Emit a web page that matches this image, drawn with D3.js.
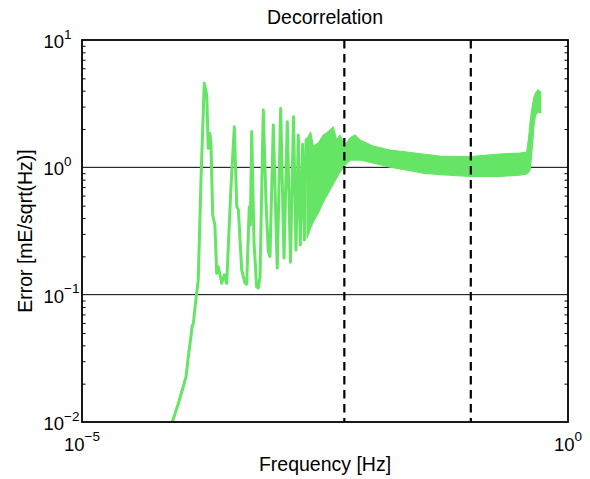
<!DOCTYPE html>
<html><head><meta charset="utf-8">
<script src="https://cdn.jsdelivr.net/npm/d3@7"></script>
<style>
body{margin:0;background:#fff}
svg{display:block}
text{font-family:"Liberation Sans",Arial,Helvetica,sans-serif;fill:#000}
</style>
</head><body>
<svg id="c" width="590" height="479"></svg>
<script>
// ---- data ----
const title = "Decorrelation";
const xLabel = "Frequency [Hz]";
const yLabel = "Error [mE/sqrt(Hz)]";

// sparse, resolved oscillations (low frequencies)
const freqLine = [8.5e-5,9.8e-5,1.10e-4,1.175e-4,1.24e-4,1.32e-4,1.355e-4,1.40e-4,1.456e-4,1.51e-4,1.57e-4,1.675e-4,
  1.81e-4,1.92e-4,1.99e-4,2.06e-4,2.12e-4,2.21e-4,2.33e-4,2.43e-4,2.52e-4,2.74e-4,2.91e-4,3.08e-4,3.39e-4,
  3.69e-4,3.91e-4,4.06e-4,4.40e-4,4.75e-4,4.94e-4,5.26e-4,5.40e-4,5.57e-4,5.89e-4,6.26e-4,6.52e-4,6.78e-4,
  7.33e-4,7.82e-4,8.26e-4,8.59e-4,9.29e-4,1.02e-3,1.106e-3,1.197e-3,1.294e-3,1.396e-3,1.50e-3,1.59e-3,
  1.68e-3,1.76e-3,1.86e-3,1.94e-3,2.02e-3];
const errLine = [0.010,0.014,0.0189,0.0226,0.0325,0.0467,0.056,0.0595,0.080,0.102,0.130,0.794,
  4.57,3.70,1.41,1.85,1.59,0.422,0.352,0.147,0.166,0.123,0.143,0.123,0.643,
  2.08,0.491,0.463,0.156,0.123,0.121,0.491,0.352,1.91,0.254,0.115,0.113,0.138,
  2.82,0.525,0.217,0.199,2.15,0.161,2.90,0.194,2.28,0.180,2.50,0.223,
  1.79,0.2455,1.52,0.2685,1.64];

// dense, unresolved part: upper and lower envelope of the trace
const freqBand = [2.065e-3,2.25e-3,2.40e-3,2.70e-3,3.04e-3,3.29e-3,3.56e-3,3.85e-3,4.17e-3,4.51e-3,5.08e-3,
  5.71e-3,6.44e-3,7.24e-3,9.86e-3,1.476e-2,2.21e-2,3.22e-2,4.82e-2,9.82e-2,0.1995,0.3206,
  0.376,0.393,0.407,0.416,0.434,0.447,0.464,0.491,0.524];
const errBandHi = [1.667,1.894,1.470,1.552,1.793,1.859,1.963,2.073,1.638,1.793,1.497,
  1.700,1.793,1.638,1.470,1.367,1.319,1.272,1.227,1.216,1.272,1.295,
  1.319,1.700,2.228,2.575,3.20,3.567,3.834,4.05,3.904];
const errBandLo = [0.2786,0.3336,0.3718,0.4375,0.5336,0.595,0.6637,0.7396,0.8241,0.918,1.042,
  1.141,1.141,1.141,1.081,1.005,0.952,0.902,0.878,0.847,0.847,0.870,
  0.886,0.918,0.952,1.101,1.580,2.15,2.575,2.72,2.67];

const xTickValues = [1e-5, 1];
const xTickExponents = ["\u22125", "0"];
const yTickValues = [1e-2, 1e-1, 1, 10];
const yTickExponents = ["\u22122", "\u22121", "0", "1"];
const gridValues = [0.1, 1];
const markerFreqs = [5e-3, 0.1];

// ---- drawing ----
const svg = d3.select("#c");
const L = 82, R = 568, T = 40, B = 422;
const x = d3.scaleLog().domain([1e-5, 1]).range([L, R]);
const y = d3.scaleLog().domain([1e-2, 10]).range([B, T]);
const green = "#66e466";

svg.append("clipPath").attr("id","clip").append("rect")
  .attr("x",L).attr("y",T).attr("width",R-L).attr("height",B-T);

// grid lines (under data)
svg.append("g").selectAll("line").data(gridValues).join("line")
  .attr("x1",L).attr("x2",R).attr("y1",d=>y(d)).attr("y2",d=>y(d))
  .attr("stroke","#000").attr("stroke-width",1);

const plot = svg.append("g").attr("clip-path","url(#clip)");

// dense band
const bandData = freqBand.map((f,i)=>({f, hi:errBandHi[i], lo:errBandLo[i]}));
plot.append("path").datum(bandData)
  .attr("d", d3.area().x(d=>x(d.f)).y0(d=>y(d.lo)).y1(d=>y(d.hi)))
  .attr("fill", green).attr("stroke", green).attr("stroke-width",1.2).attr("stroke-linejoin","round");

// sparse line
const lineData = freqLine.map((f,i)=>({f, v:errLine[i]}));
lineData.push({f:freqBand[0], v:errBandHi[0]});
plot.append("path").datum(lineData)
  .attr("d", d3.line().x(d=>x(d.f)).y(d=>y(d.v)))
  .attr("fill","none").attr("stroke",green).attr("stroke-width",3)
  .attr("stroke-linejoin","round").attr("stroke-linecap","round");

// dashed vertical markers (over data)
svg.append("g").selectAll("line").data(markerFreqs).join("line")
  .attr("x1",d=>x(d)).attr("x2",d=>x(d)).attr("y1",T).attr("y2",B)
  .attr("stroke","#000").attr("stroke-width",2.2).attr("stroke-dasharray","8.5,5.5");

// minor y ticks (left and right, inward)
const minor = [];
[-2,-1,0].forEach(k=>{ for(let j=2;j<=9;j++) minor.push(j*Math.pow(10,k)); });
const axL = svg.append("g").attr("transform",`translate(${L},0)`)
  .call(d3.axisLeft(y).tickValues(minor).tickSize(-3.5).tickFormat(""));
const axR = svg.append("g").attr("transform",`translate(${R},0)`)
  .call(d3.axisRight(y).tickValues(minor).tickSize(-3.5).tickFormat(""));
[axL,axR].forEach(a=>{ a.select(".domain").remove(); a.selectAll("line").attr("stroke","#000").attr("stroke-width",1); });

// frame
svg.append("rect").attr("x",L).attr("y",T).attr("width",R-L).attr("height",B-T)
  .attr("fill","none").attr("stroke","#000").attr("stroke-width",1.8);

// y tick labels
yTickValues.forEach((v,i)=>{
  const t = svg.append("text").attr("x",43.5).attr("y",y(v)+8).attr("font-size",18.5);
  t.append("tspan").text("10");
  t.append("tspan").attr("dy",-9.5).attr("font-size",13.5).text(yTickExponents[i]);
});
// x tick labels
xTickValues.forEach((v,i)=>{
  const t = svg.append("text").attr("x",x(v)).attr("y",450.5).attr("font-size",18.5).attr("text-anchor","middle");
  t.append("tspan").text("10");
  t.append("tspan").attr("dy",-10).attr("font-size",13.5).text(xTickExponents[i]);
});

// titles
svg.append("text").attr("x",(L+R)/2).attr("y",24).attr("text-anchor","middle").attr("font-size",19.5).text(title);
svg.append("text").attr("x",(L+R)/2).attr("y",470.5).attr("text-anchor","middle").attr("font-size",19.5).text(xLabel);
svg.append("text").attr("transform",`translate(32,${(T+B)/2}) rotate(-90)`).attr("text-anchor","middle").attr("font-size",19.5).text(yLabel);
</script>
</body></html>
